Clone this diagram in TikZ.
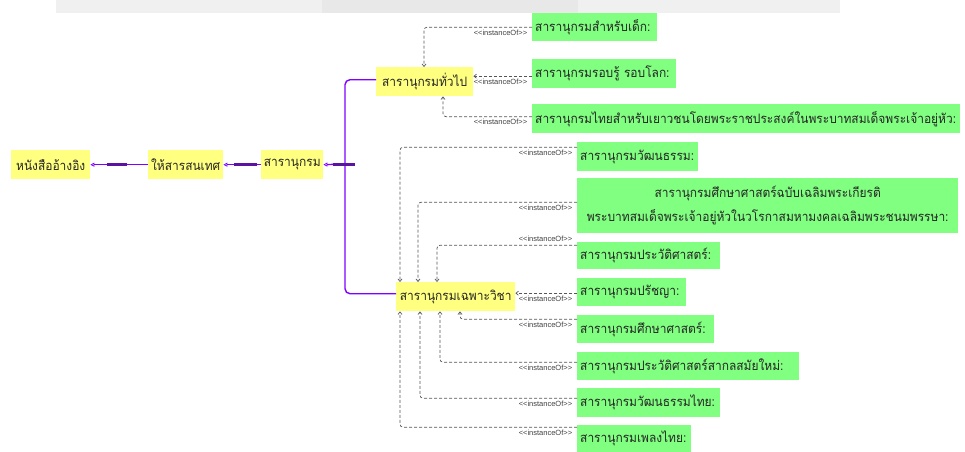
\documentclass[tikz,border=0pt]{standalone}
\usepackage{fontspec}
\setmainfont{Liberation Sans}
\newfontfamily\thai[Script=Thai, FakeStretch=0.92]{Loma}
\usetikzlibrary{arrows.meta,calc}
\definecolor{ybox}{HTML}{FFFF80}
\definecolor{gbox}{HTML}{80FF80}
\definecolor{vio}{HTML}{8000FF}
\definecolor{dvio}{HTML}{5A14A0}
\definecolor{dgray}{HTML}{555555}
\newcommand{\instof}{<\kern0pt<instanceOf>\kern0pt>}
\tikzset{
  ynode/.style={fill=ybox, inner sep=0pt, anchor=north west, text=black!85,
    font=\thai\fontsize{13}{15}\selectfont},
  gnode/.style={fill=gbox, inner xsep=3pt, inner ysep=0pt, anchor=north west,
    align=left, text=black!85, font=\thai\fontsize{13}{15}\selectfont},
  pline/.style={draw=vio, line width=1.4pt},
  ptip/.style={-{Triangle[open, length=4pt, width=4pt, line width=0.7pt]}},
  pbar/.style={draw=dvio, line width=3.2pt},
  inst/.style={draw=dgray, dash pattern=on 3pt off 2pt, line width=0.7pt,
    rounded corners=3pt, -{Straight Barb[length=2.5pt, width=4pt]}},
  lbl/.style={font=\fontsize{7.5}{8}\selectfont, text=black!75, inner sep=0.5pt},
  lblb/.style={lbl, anchor=north east, xshift=-4pt, yshift=-2pt},
  lbla/.style={lbl, anchor=south east, xshift=-4pt, yshift=3pt},
}
\begin{document}
\begin{tikzpicture}[x=1pt, y=-1pt]
\useasboundingbox (0,0) rectangle (965,451);

% faint header band
\fill[gray!12] (56,0) rectangle (840,13);
\fill[gray!18] (322,0) rectangle (578,13);

% main chain
\node[ynode, minimum width=79pt, minimum height=29pt] (A) at (11,150) {หนังสืออ้างอิง};
\node[ynode, minimum width=75pt, minimum height=29pt] (B) at (148,150) {ให้สารสนเทศ};
\node[ynode, minimum width=62pt, minimum height=29pt] (C) at (261,150) {สารานุกรม};
\node[ynode, minimum width=97pt, minimum height=29pt] (D) at (376,67) {สารานุกรมทั่วไป};
\node[ynode, minimum width=119pt, minimum height=29pt] (E) at (396,282) {สารานุกรมเฉพาะวิชา};

% instances
\node[gnode, text width=119pt, minimum height=28pt] (g1) at (532,13) {สารานุกรมสำหรับเด็ก:};
\node[gnode, text width=138pt, minimum height=29pt] (g2) at (532,59) {สารานุกรมรอบรู้ รอบโลก:};
\node[gnode, text width=422pt, minimum height=29pt] (g3) at (532,104) {สารานุกรมไทยสำหรับเยาวชนโดยพระราชประสงค์ในพระบาทสมเด็จพระเจ้าอยู่หัว:};
\node[gnode, text width=115pt, minimum height=29pt] (g4) at (577,142) {สารานุกรมวัฒนธรรม:};
\node[gnode, text width=375pt, minimum height=55pt, align=center,
  font=\thai\fontsize{13}{24}\selectfont] (g5) at (577,178)
  {สารานุกรมศึกษาศาสตร์ฉบับเฉลิมพระเกียรติ\\พระบาทสมเด็จพระเจ้าอยู่หัวในวโรกาสมหามงคลเฉลิมพระชนมพรรษา:};
\node[gnode, text width=137pt, minimum height=27pt] (g6) at (577,242) {สารานุกรมประวัติศาสตร์:};
\node[gnode, text width=103pt, minimum height=28pt] (g7) at (577,278) {สารานุกรมปรัชญา:};
\node[gnode, text width=131pt, minimum height=28pt] (g8) at (577,315) {สารานุกรมศึกษาศาสตร์:};
\node[gnode, text width=216pt, minimum height=28pt] (g9) at (577,352) {สารานุกรมประวัติศาสตร์สากลสมัยใหม่:};
\node[gnode, text width=137pt, minimum height=29pt] (g10) at (577,388) {สารานุกรมวัฒนธรรมไทย:};
\node[gnode, text width=108pt, minimum height=27pt] (g11) at (577,425) {สารานุกรมเพลงไทย:};

% purple links
\draw[pline, ptip] (B.west) -- (A.east);
\draw[pbar] ($(A.east)!0.29!(B.west)$) -- ($(A.east)!0.64!(B.west)$);
\draw[pline, ptip] (C.west) -- (B.east);
\draw[pbar] ($(B.east)!0.29!(C.west)$) -- ($(B.east)!0.9!(C.west)$);
\coordinate (jn) at (345,164);
\draw[pline, rounded corners=5pt] ([yshift=2pt]D.west) -| (jn) |- ([yshift=3pt]E.west);
\draw[pline, ptip] (jn) -- (C.east);
\draw[pbar] ([xshift=10pt]C.east) -- ([xshift=32pt]C.east);

% instanceOf links, general
\draw[inst] (g1.west) node[lblb]{\instof} -| ([xshift=48pt]D.north west);
\coordinate (s2) at ([yshift=-2.5pt]g2.west);
\draw[inst] (s2) node[lblb]{\instof} -- (s2 -| D.east);
\draw[inst] ([yshift=2pt]g3.west) node[lblb]{\instof} -| ([xshift=67pt]D.south west);

% instanceOf links, specific
\draw[inst] ([yshift=9.5pt]g4.west) node[lblb]{\instof} -| ([xshift=4pt]E.north west);
\draw[inst] ([yshift=3.5pt]g5.west) node[lblb]{\instof} -| ([xshift=22pt]E.north west);
\draw[inst] ([yshift=10.5pt]g6.west) node[lbla]{\instof} -| ([xshift=41pt]E.north west);
\coordinate (s7) at ([yshift=-1pt]g7.west);
\draw[inst] (s7) node[lblb]{\instof} -- (s7 -| E.east);
\draw[inst] ([yshift=10pt]g8.west) node[lblb]{\instof} -| ([xshift=64pt]E.south west);
\draw[inst] ([yshift=4pt]g9.west) node[lblb]{\instof} -| ([xshift=44pt]E.south west);
\draw[inst] ([yshift=4.5pt]g10.west) node[lblb]{\instof} -| ([xshift=24pt]E.south west);
\draw[inst] ([yshift=11.5pt]g11.west) node[lblb]{\instof} -| ([xshift=4pt]E.south west);
\end{tikzpicture}
\end{document}
